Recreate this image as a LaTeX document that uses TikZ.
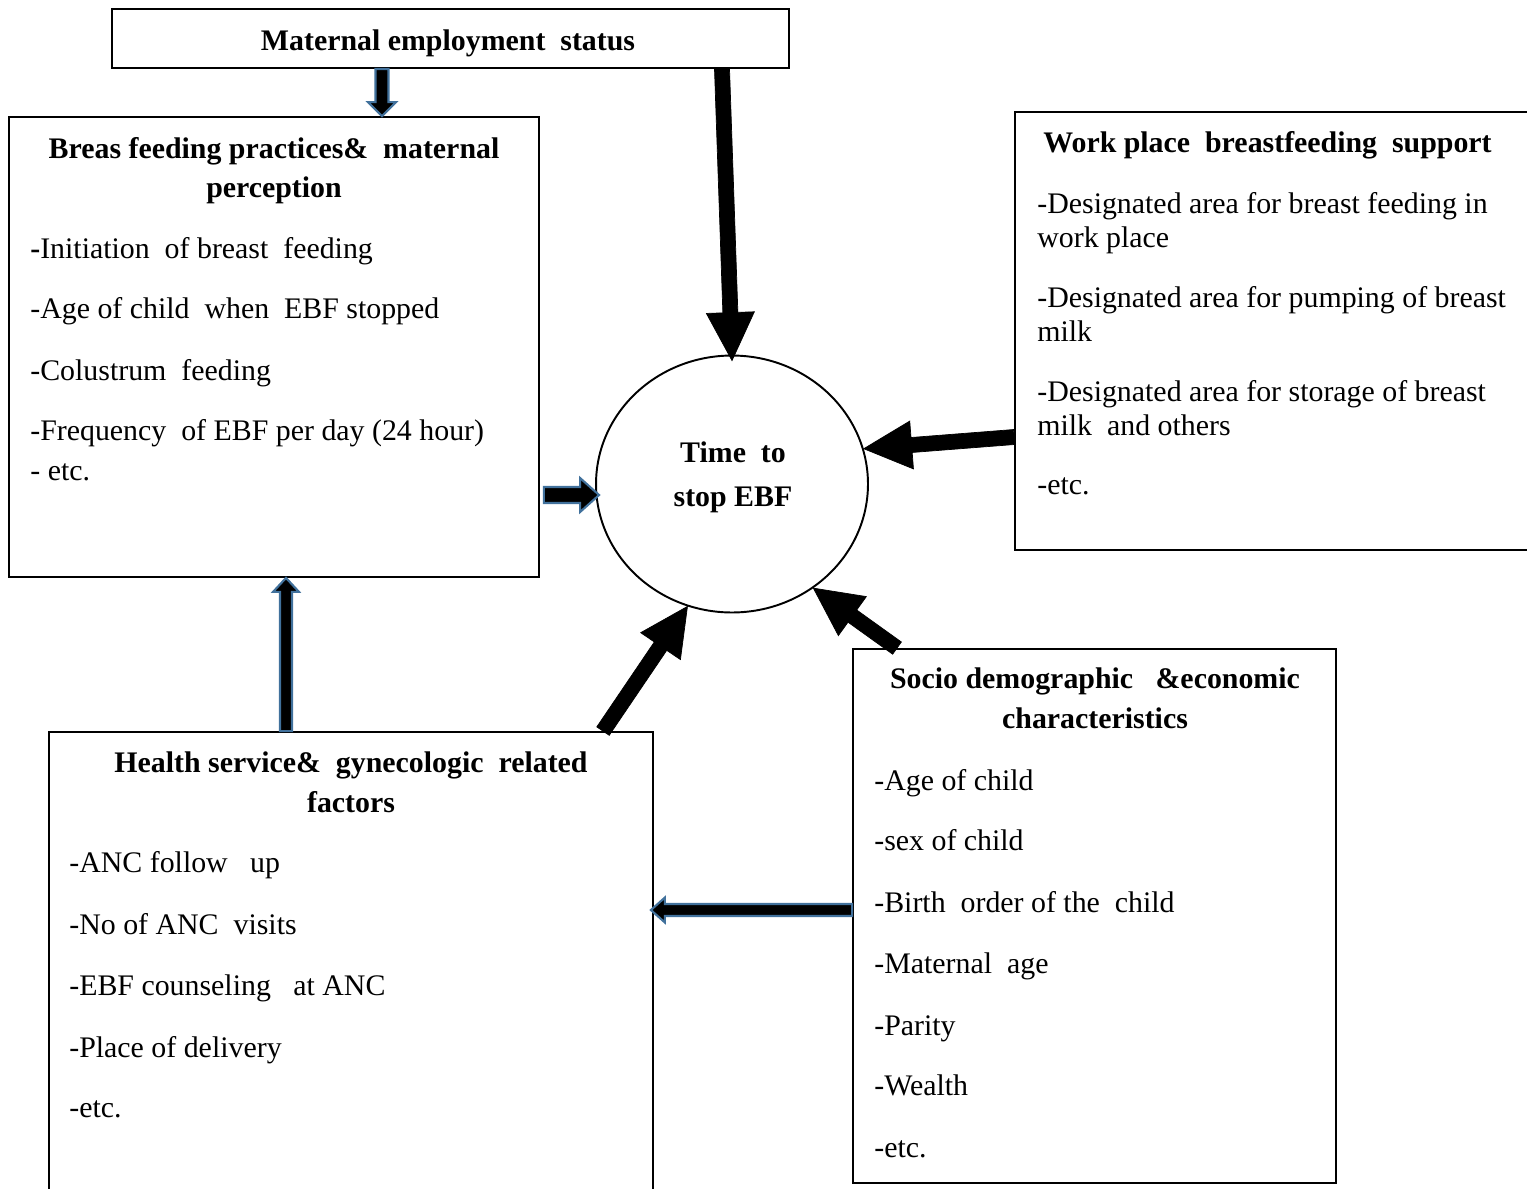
\documentclass[tikz,border=0pt]{standalone}
\usepackage{fontspec}
\setmainfont{Liberation Serif}
\usetikzlibrary{calc,shapes.geometric}

\definecolor{bluarr}{HTML}{41719C}

% block arrow: style, from, to, shaft half width, head half width, head length
\newcommand{\blockarrow}[6]{%
    \coordinate (ba-s) at (#2);
    \coordinate (ba-e) at (#3);
    \coordinate (ba-h) at ($(ba-e)!#6!(ba-s)$);
    \draw[#1] ($(ba-s)!#4!90:(ba-e)$) -- ($(ba-h)!#4!90:(ba-e)$) -- ($(ba-h)!#5!90:(ba-e)$)
        -- (ba-e) -- ($(ba-h)!#5!-90:(ba-e)$) -- ($(ba-h)!#4!-90:(ba-e)$) -- ($(ba-s)!#4!-90:(ba-e)$) -- cycle;
}

\tikzset{
    box/.style={draw, line width=1.1pt, inner sep=0pt},
    txt/.style={inner sep=0pt, text height=0.7em, text depth=0.25em, yshift=-0.14cm, font=\fontsize{17}{20}\selectfont},
    ttl/.style={txt, font=\fontsize{17}{20}\selectfont\bfseries},
    item/.style={txt, anchor=west},
    bluarrow/.style={draw=bluarr, line width=1.2pt, fill=black, line join=miter},
    blkarrow/.style={fill=black}
}

\begin{document}
\begin{tikzpicture}[x=0.02cm, y={(0cm,-0.02cm)}]
    \useasboundingbox (0,0) rectangle (1527,1188);

    % boxes
    \node[box, minimum width=13.54cm, minimum height=1.18cm] (emp) at (450.5,38.5) {};
    \node[box, minimum width=10.6cm, minimum height=9.2cm] (bfp) at (274,347) {};
    \node[box, minimum width=10.6cm, minimum height=8.76cm] (wps) at (1280,331) {};
    \node[box, minimum width=9.66cm, minimum height=10.68cm] (sde) at (1094.5,916) {};
    \node[box, minimum width=12.08cm, minimum height=9.56cm] (hsg) at (351,971) {};
    \node[ellipse, draw, line width=1.1pt, inner sep=0pt, minimum width=5.44cm, minimum height=5.14cm] (tc) at (732,484) {};

    % texts
    \node[ttl] (emp-t) at (448,40) {Maternal employment\ \ status};
    \node[ttl] (tc-1) at (733,452) {Time\ \ to};
    \node[ttl] (tc-2) at (733,496) {stop EBF};

    \node[ttl] (bfp-t1) at (274,148) {Breas feeding practices\&\ \ maternal};
    \node[ttl] (bfp-t2) at (274,187) {perception};
    \foreach \y/\t [count=\i] in {248/{\textbf{-}Initiation\ \ of breast\ \ feeding},
        308/{-Age of child\ \ when\ \ EBF stopped}, 370/{-Colustrum\ \ feeding},
        430/{-Frequency\ \ of EBF per day (24 hour)}, 470/{- etc.}}
        \node[item] (bfp-\i) at (30,\y) {\t};

    \node[ttl, anchor=west] (wps-t) at (1043,142) {Work place\ \ breastfeeding\ \ support};
    \foreach \y/\t [count=\i] in {203/{-Designated area for breast feeding in}, 237/{work place},
        297/{-Designated area for pumping of breast}, 331/{milk},
        391/{-Designated area for storage of breast}, 425/{milk\ \ and others}, 484/{-etc.}}
        \node[item] (wps-\i) at (1037,\y) {\t};

    \node[ttl] (sde-t1) at (1095,678) {Socio demographic\ \ \ \&economic};
    \node[ttl] (sde-t2) at (1095,718) {characteristics};
    \foreach \y/\t [count=\i] in {780/{-Age of child}, 840/{-sex of child}, 902/{-Birth\ \ order of the\ \ child},
        963/{-Maternal\ \ age}, 1025/{-Parity}, 1085/{-Wealth}, 1147/{-etc.}}
        \node[item] (sde-\i) at (874,\y) {\t};

    \node[ttl] (hsg-t1) at (351,762) {Health service\&\ \ gynecologic\ \ related};
    \node[ttl] (hsg-t2) at (351,802) {factors};
    \foreach \y/\t [count=\i] in {862/{-ANC follow\ \ \ up}, 924/{-No of ANC\ \ visits}, 985/{-EBF counseling\ \ \ at ANC},
        1047/{-Place of delivery}, 1107/{-etc.}}
        \node[item] (hsg-\i) at (69,\y) {\t};

    % blue arrows
    \blockarrow{bluarrow}{emp.south -| 382,0}{bfp.north -| 382,0}{0.13cm}{0.28cm}{0.28cm}
    \blockarrow{bluarrow}{$(bfp.east |- 0,495)+(4,0)$}{$(tc.west |- 0,495)+(4,0)$}{0.16cm}{0.34cm}{0.38cm}
    \blockarrow{bluarrow}{hsg.north -| 286,0}{bfp.south -| 286,0}{0.12cm}{0.26cm}{0.28cm}
    \blockarrow{bluarrow}{sde.west |- 0,910}{$(hsg.east |- 0,910)+(-3,0)$}{0.12cm}{0.25cm}{0.28cm}

    % black arrows
    \blockarrow{blkarrow}{emp.south -| 722,0}{$(tc.north)+(0,6)$}{0.15cm}{0.48cm}{0.96cm}
    \blockarrow{blkarrow}{wps.west |- 0,437}{tc.15}{0.15cm}{0.48cm}{0.96cm}
    \blockarrow{blkarrow}{sde.north -| 897,0}{tc.-52}{0.15cm}{0.48cm}{0.96cm}
    \blockarrow{blkarrow}{hsg.north -| 603,0}{tc.-110}{0.15cm}{0.48cm}{0.96cm}

\end{tikzpicture}
\end{document}
